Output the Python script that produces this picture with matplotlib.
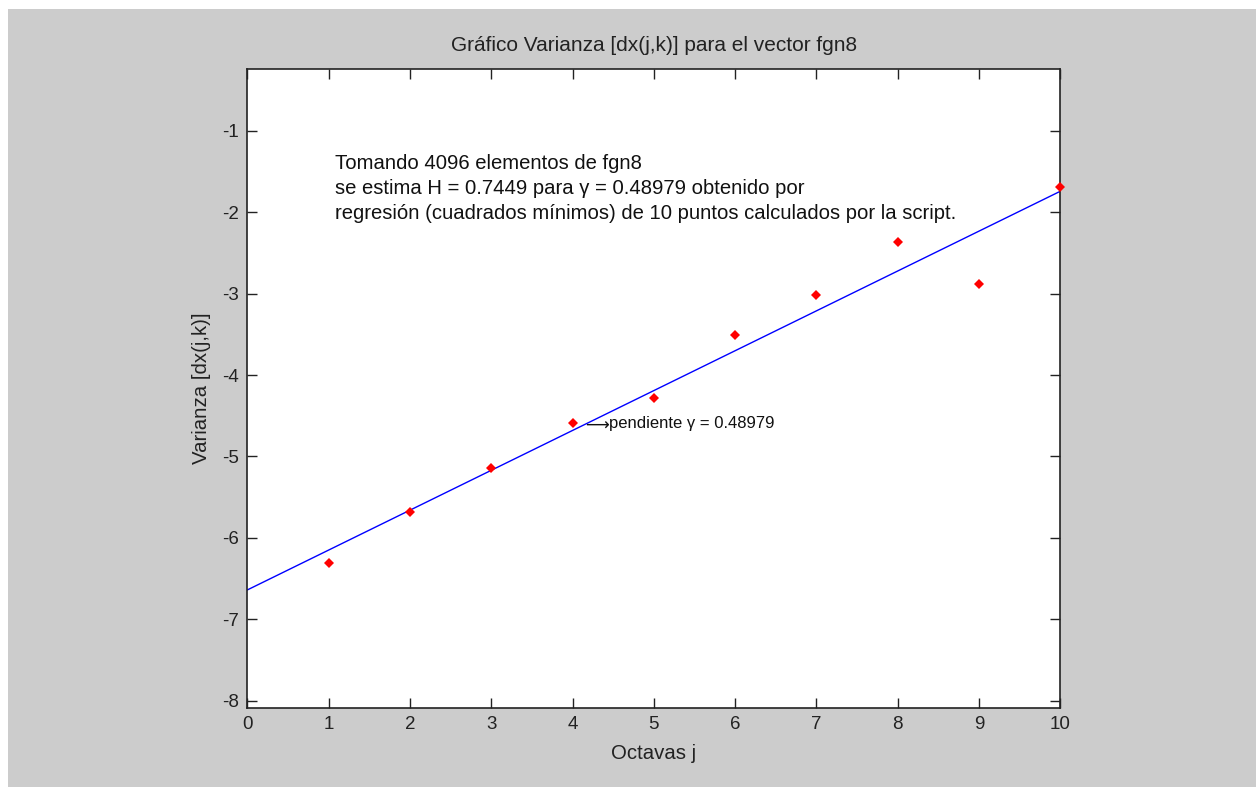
import numpy as np
import matplotlib
matplotlib.use("Agg")
import matplotlib.pyplot as plt
from matplotlib.patches import Rectangle

plt.rcParams['font.family'] = ['Liberation Sans', 'DejaVu Sans']
plt.rcParams['axes.unicode_minus'] = False

# Octaves and log2 variance of the wavelet details
octavas = np.arange(1, 11)
varianza = [-6.31, -5.68, -5.14, -4.59, -4.28, -3.51, -3.02, -2.36, -2.88, -1.69]
n_elementos = 4096
gamma = 0.48979
hurst = 0.7449

x = np.asarray(octavas, dtype=float)
y = np.asarray(varianza, dtype=float)
# regression line with the estimated slope through the centroid
intercepto = y.mean() - gamma * x.mean()
xl = np.array([0.0, 10.0])
yl = intercepto + gamma * xl

fig = plt.figure(figsize=(12.59, 7.87), dpi=100, facecolor='white')
# grey window background
fig.patches.append(Rectangle((8 / 1259, 0), (1256 - 8) / 1259, (787 - 9) / 787,
                             transform=fig.transFigure, facecolor='#cccccc',
                             edgecolor='none', zorder=-10))

ax = fig.add_axes([247.3 / 1259, 79 / 787, 813 / 1259, 639 / 787])
ax.set_facecolor('white')

ax.plot(xl, yl, color='#0000ff', lw=1.0, zorder=2)
ax.plot(x, y, linestyle='none', marker='D', markersize=5.5, color='red',
        markeredgewidth=0, zorder=3, clip_on=False)

ax.set_xlim(0, 10)
ax.set_ylim(-8.09, -0.24)
ax.set_xticks(range(0, 11))
ax.set_yticks(range(-8, 0))
ax.tick_params(direction='in', length=7, width=1, top=True, right=True,
               labelsize=13.5, colors='#222222', pad=6)
for s in ax.spines.values():
    s.set_color('#222222')
    s.set_linewidth(1.2)

ax.set_title('Gráfico Varianza [dx(j,k)] para el vector fgn8', fontsize=15,
             color='#222222', pad=13)
ax.set_xlabel('Octavas j', fontsize=14.7, color='#222222', labelpad=8)
ax.set_ylabel('Varianza [dx(j,k)]', fontsize=14.7, color='#222222', labelpad=8)

texto = (f'Tomando {n_elementos} elementos de fgn8\n'
         f'se estima H = {hurst} para γ = {gamma} obtenido por\n'
         f'regresión (cuadrados mínimos) de {len(octavas)} puntos calculados por la script.')
ax.text(1.08, -1.285, texto, fontsize=14.6, color='#111111', va='top', ha='left',
        linespacing=1.39)

# slope label next to the fourth point
yb = y[3] - 0.065
ax.text(4.15, yb - 0.025, '⟶', fontsize=12, color='#111111',
        va='baseline', ha='left', family='DejaVu Sans')
ax.text(4.45, yb, f'pendiente γ = {gamma}', fontsize=12, color='#111111',
        va='baseline', ha='left')

fig.savefig('out.png', dpi=100, facecolor='white')
